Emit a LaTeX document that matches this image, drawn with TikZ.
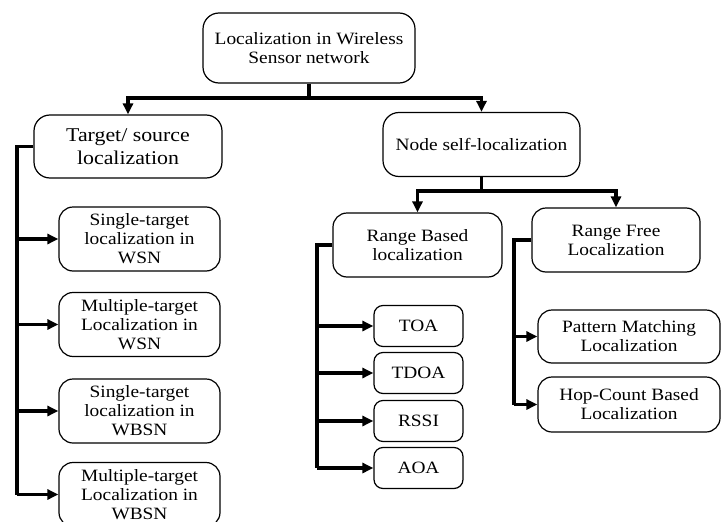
\documentclass[tikz,border=0pt]{standalone}
\usepackage{fontspec}
\setmainfont{Liberation Serif}[FakeStretch=1.12]
\usetikzlibrary{arrows.meta,calc}
\begin{document}
\begin{tikzpicture}[x=1pt,y=-1pt,
  box/.style={draw,line width=1.2pt,rounded corners=12pt,align=center,inner sep=2pt,
     font=\fontsize{17.3}{19}\selectfont},
  conn/.style={line width=3.1pt},
  arr/.style={conn,-{Triangle[length=11pt,width=10pt]}}]
\useasboundingbox (0,0) rectangle (723,522);
\clip (0,0) rectangle (723,522);
% nodes
\node[box,rounded corners=16pt,minimum width=212pt,minimum height=70pt] (top) at (309,48) {Localization in Wireless\\Sensor network};
\node[box,rounded corners=16pt,minimum width=188pt,minimum height=63pt,font=\fontsize{19.5}{23}\selectfont] (tgt) at (128,146.5) {Target/ source\\localization};
\node[box,rounded corners=16pt,minimum width=197pt,minimum height=64pt] (nsl) at (481.5,144.5) {Node self-localization};
\node[box,rounded corners=14pt,minimum width=169pt,minimum height=64pt] (rb) at (417.5,245) {Range Based\\localization};
\node[box,rounded corners=14pt,minimum width=168pt,minimum height=64pt] (rf) at (616,240) {Range Free\\Localization};
\node[box,rounded corners=9pt,minimum width=89pt,minimum height=41pt] (toa) at (418.5,326) {TOA};
\node[box,rounded corners=9pt,minimum width=89pt,minimum height=41pt] (tdoa) at (418.5,373) {TDOA};
\node[box,rounded corners=9pt,minimum width=89pt,minimum height=41pt] (rssi) at (418.5,421) {RSSI};
\node[box,rounded corners=9pt,minimum width=89pt,minimum height=41pt] (aoa) at (418.5,468) {AOA};
\node[box,rounded corners=14pt,minimum width=182pt,minimum height=53pt] (pm) at (629,336.5) {Pattern Matching\\Localization};
\node[box,rounded corners=14pt,minimum width=182pt,minimum height=55pt] (hc) at (629,404.5) {Hop-Count Based\\Localization};
\node[box,rounded corners=14pt,minimum width=161pt,minimum height=64pt] (s1) at (139.5,239) {Single-target\\localization in\\WSN};
\node[box,rounded corners=14pt,minimum width=161pt,minimum height=64pt] (m1) at (139.5,324.5) {Multiple-target\\Localization in\\WSN};
\node[box,rounded corners=14pt,minimum width=161pt,minimum height=64pt] (s2) at (139.5,411) {Single-target\\localization in\\WBSN};
\node[box,rounded corners=14pt,minimum width=161pt,minimum height=64pt] (m2) at (139.5,494.5) {Multiple-target\\Localization in\\WBSN};
% junctions
\coordinate (j1) at (309,98);
\coordinate (j2) at (481.5,191);
\coordinate (lx) at (17,0);
\coordinate (rbx) at (317,0);
\coordinate (rfx) at (514,0);
% top level
\draw[conn] (top.south) -- (j1);
\draw[arr] (j1) -| (tgt.north);
\draw[arr] (j1) -| (nsl.north);
% node self-localization
\draw[conn] (nsl.south) -- (j2);
\draw[arr] (j2) -| (rb.north);
\draw[arr] (j2) -| (rf.north);
% left tree
\draw[conn] (tgt.west) -- (lx |- tgt.west) -- (lx |- m2.west);
\draw[arr] (lx |- s1.west) -- (s1.west);
\draw[arr] (lx |- m1.west) -- (m1.west);
\draw[arr] (lx |- s2.west) -- (s2.west);
\draw[arr] (lx |- m2.west) -- (m2.west);
% range based
\draw[conn] (rb.west) -- (rbx |- rb.west) -- (rbx |- aoa.west);
\draw[arr] (rbx |- toa.west) -- (toa.west);
\draw[arr] (rbx |- tdoa.west) -- (tdoa.west);
\draw[arr] (rbx |- rssi.west) -- (rssi.west);
\draw[arr] (rbx |- aoa.west) -- (aoa.west);
% range free
\draw[conn] (rf.west) -- (rfx |- rf.west) -- (rfx |- hc.west);
\draw[arr] (rfx |- pm.west) -- (pm.west);
\draw[arr] (rfx |- hc.west) -- (hc.west);
\end{tikzpicture}
\end{document}
